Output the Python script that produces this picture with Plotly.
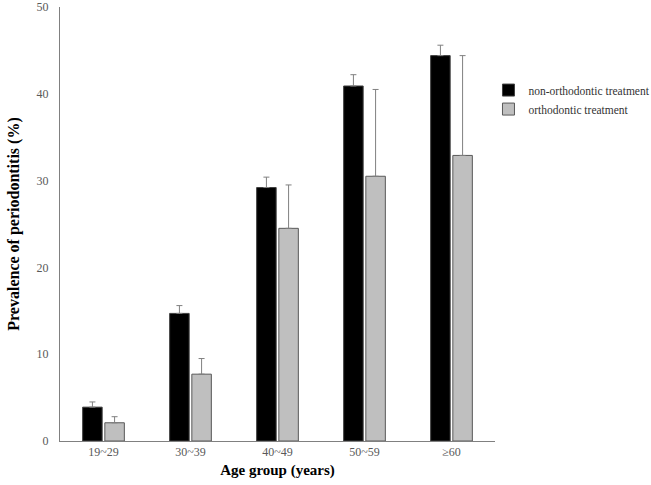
import plotly.graph_objects as go

categories = ["19~29", "30~39", "40~49", "50~59", "≥60"]
non_ortho = [3.9, 14.7, 29.2, 40.9, 44.4]
non_ortho_err = [0.6, 0.9, 1.2, 1.3, 1.2]
ortho = [2.1, 7.7, 24.5, 30.5, 32.9]
ortho_err = [0.7, 1.8, 5.0, 10.0, 11.5]
y_ticks = [0, 10, 20, 30, 40, 50]

font_family = "Liberation Serif"

fig = go.Figure()
fig.add_trace(go.Bar(
    x=categories, y=non_ortho, name="non-orthodontic treatment",
    marker=dict(color="#000000", line=dict(color="#404040", width=1)),
    error_y=dict(type="data", array=non_ortho_err, arrayminus=[0]*5, symmetric=False,
                 color="#808080", thickness=1, width=3),
))
fig.add_trace(go.Bar(
    x=categories, y=ortho, name="orthodontic treatment",
    marker=dict(color="#bfbfbf", line=dict(color="#595959", width=1)),
    error_y=dict(type="data", array=ortho_err, arrayminus=[0]*5, symmetric=False,
                 color="#808080", thickness=1, width=3),
))

fig.update_layout(
    width=651, height=485,
    margin=dict(l=60, r=156, t=7, b=44, autoexpand=False),
    paper_bgcolor="white", plot_bgcolor="white",
    barmode="group", bargap=0.49, bargroupgap=0.12,
    font=dict(family=font_family, color="#595959", size=12),
    legend=dict(x=0.985, y=0.842, xanchor="left", yanchor="top",
                font=dict(family=font_family, size=11.5, color="#333333"),
                itemwidth=30, tracegroupgap=0),
    xaxis=dict(
        showline=True, linecolor="#808080", linewidth=1,
        ticks="", showgrid=False,
        tickfont=dict(family=font_family, size=12, color="#595959"),
        title=dict(text="<b>Age group (years)</b>", standoff=6,
                   font=dict(family=font_family, size=15, color="#000000")),
    ),
    yaxis=dict(
        range=[0, 50], tickvals=y_ticks,
        showline=True, linecolor="#808080", linewidth=1,
        ticks="outside", ticklen=8, tickcolor="white",
        ticklabeloverflow="allow",
        showgrid=False, zeroline=False,
        tickfont=dict(family=font_family, size=12, color="#595959"),
        title=dict(text="<b>Prevalence of periodontitis (%)</b>", standoff=12,
                   font=dict(family=font_family, size=16, color="#000000")),
    ),
)

fig.write_html("out.html", config={"displayModeBar": False},
               post_script="document.body.style.margin='0';")
